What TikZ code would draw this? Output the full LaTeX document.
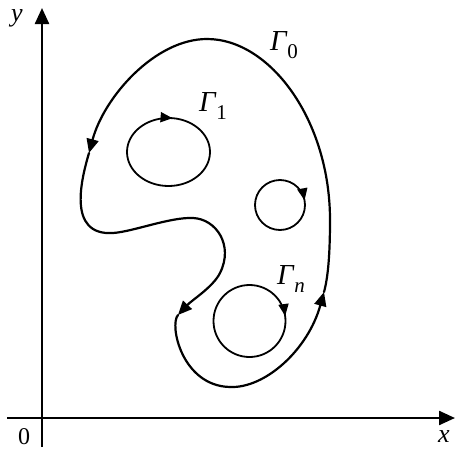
\documentclass[tikz,border=0pt]{standalone}
\usepackage{fontspec}
\setmainfont{Liberation Serif}
\usetikzlibrary{arrows.meta,decorations.markings}
\tikzset{
  lbl/.style={font=\fontsize{26}{26}\selectfont\itshape, inner sep=0pt},
  glbl/.style={font=\fontsize{29}{29}\selectfont, inner sep=0pt},
  axis/.style={line width=2.4pt, -{Triangle[length=16pt,width=14pt]}},
  contour/.style={line width=2.2pt, line cap=round},
  tipped/.style={contour, -{Triangle[length=14pt,width=12pt]}},
  loop/.style={line width=1.8pt},
  arr/.style={postaction={decorate}, decoration={markings, mark=at position #1 with {\arrow{Triangle[length=12pt,width=10pt]}}}},
}
\newcommand{\Gsub}[1]{\textit{Γ}\raisebox{-0.25em}{\fontsize{21}{21}\selectfont #1}}
\begin{document}
\begin{tikzpicture}[x=1pt,y=-1pt]
\useasboundingbox (0,0) rectangle (456,450);
% axes
\coordinate (ybot) at (42,447);
\coordinate (ytop) at (42,8);
\coordinate (xl) at (7,418);
\coordinate (xr) at (455,418);
\draw[axis] (ybot) -- (ytop);
\draw[axis] (xl) -- (xr);
\node[lbl] (ylab) at (17,18) {y};
\node[lbl] (xlab) at (444,437) {x};
\node[lbl, font=\fontsize{24}{24}\selectfont] (zero) at (24,437) {0};
% outer contour, pieces meeting at the arrow tips
\coordinate (top) at (207,39);
\coordinate (tipL) at (89,153);
\coordinate (lb) at (113,233);
\coordinate (mid) at (193,218);
\coordinate (bulge) at (220,273);
\coordinate (tipB) at (178,315);
\coordinate (bot) at (230,387);
\coordinate (tipR) at (324,292);
\coordinate (rt) at (330,220);
\draw[tipped] (top) .. controls (155,39) and (104,97) .. (tipL);
\draw[contour] (tipL) .. controls (82,177) and (66,236) .. (lb)
  .. controls (133,231.7) and (170,217) .. (mid)
  .. controls (216,219) and (234,245) .. (bulge);
\draw[tipped] (bulge) .. controls (213,287) and (192,300) .. (tipB);
\draw[contour] (tipB) .. controls (169,325) and (182,386) .. (bot);
\draw[tipped] (bot) .. controls (265,388.5) and (308,350) .. (tipR);
\draw[contour] (tipR) .. controls (328,277.5) and (330,255) .. (rt)
  .. controls (330,120) and (270,39) .. (top);
% inner loops (clockwise on screen)
\coordinate (c1) at (168.5,152);
\coordinate (c2) at (280,205);
\coordinate (c3) at (249.5,321);
\draw[loop, arr=0.267] ([xshift=-41.5pt]c1) arc[start angle=180, end angle=-180, x radius=41.5pt, y radius=34pt];
\draw[loop, arr=0.47] ([xshift=-25pt]c2) arc[start angle=180, end angle=-180, radius=25pt];
\draw[loop, arr=0.478] ([xshift=-36pt]c3) arc[start angle=180, end angle=-180, radius=36pt];
% labels
\node[glbl] (g0) at (284,45) {\Gsub{0}};
\node[glbl] (g1) at (213,106) {\Gsub{1}};
\node[glbl] (gn) at (291,279) {\Gsub{\textit{n}}};
\end{tikzpicture}
\end{document}
